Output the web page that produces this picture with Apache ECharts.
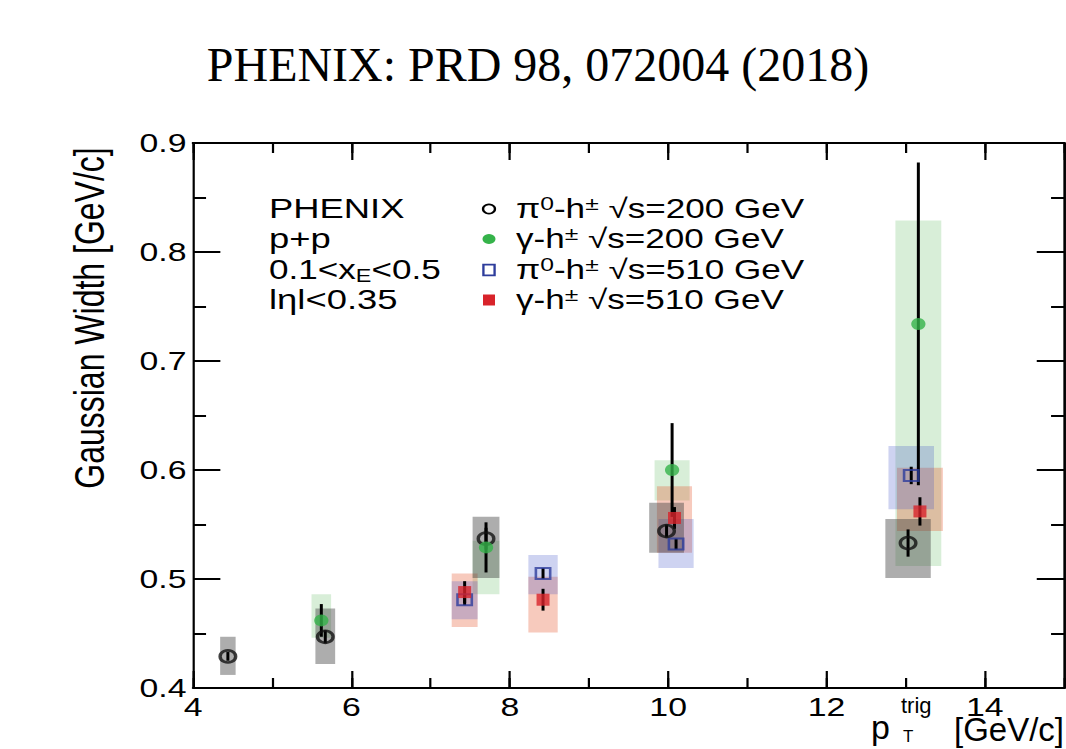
<!DOCTYPE html>
<html>
<head>
<meta charset="utf-8">
<script src="https://cdn.jsdelivr.net/npm/echarts@6/dist/echarts.min.js"></script>
<style>
  html, body { margin: 0; padding: 0; background: #fff; overflow: hidden; }
  #wrap { width: 1066px; height: 749px; overflow: hidden; }
  /* the figure is drawn with wide glyphs and markers: stretch the drawing horizontally */
  #chart { width: 820px; height: 749px; transform: scaleX(1.3); transform-origin: 0 0; }
</style>
</head>
<body>
<div id="wrap"><div id="chart"></div></div>
<script>
// ---- pi0-h± , sqrt(s) = 200 GeV (open black circles, grey boxes)
const pi200X     = [4.44, 5.67, 7.70, 9.98, 13.03];
const pi200Y     = [0.429, 0.447, 0.537, 0.544, 0.533];
const pi200Stat  = [0.004, 0.006, 0.010, 0.006, 0.0125];
const pi200SysLo = [0.412, 0.422, 0.501, 0.524, 0.501];
const pi200SysHi = [0.447, 0.473, 0.557, 0.570, 0.555];

// ---- gamma-h± , sqrt(s) = 200 GeV (green dots, green boxes)
const gam200X     = [5.62, 7.70, 10.05, 13.16];
const gam200Y     = [0.462, 0.529, 0.600, 0.734];
const gam200Stat  = [0.015, 0.023, 0.043, 0.148];
const gam200SysLo = [0.446, 0.486, 0.572, 0.512];
const gam200SysHi = [0.486, 0.535, 0.609, 0.829];

// ---- pi0-h± , sqrt(s) = 510 GeV (open blue squares, blue boxes)
const pi510X     = [7.43, 8.42, 10.10, 13.07];
const pi510Y     = [0.481, 0.505, 0.532, 0.595];
const pi510Stat  = [0.005, 0.005, 0.005, 0.008];
const pi510SysLo = [0.463, 0.486, 0.510, 0.564];
const pi510SysHi = [0.498, 0.522, 0.555, 0.622];

// ---- gamma-h± , sqrt(s) = 510 GeV (red squares, salmon boxes)
const gam510X     = [7.43, 8.42, 10.08, 13.18];
const gam510Y     = [0.488, 0.481, 0.556, 0.562];
const gam510Stat  = [0.010, 0.010, 0.010, 0.013];
const gam510SysLo = [0.456, 0.451, 0.524, 0.544];
const gam510SysHi = [0.505, 0.502, 0.585, 0.602];

// axis ranges and tick steps
const xRange = [4, 15];
const yRange = [0.4, 0.9];
const xMajor = 2, xMinor = 1;
const yMajor = 0.1, yMinor = 0.05;

const S = 1.3;                 // horizontal stretch applied to the container
const px = v => v / S;         // page x -> chart x
const BOX_FRAC = 0.022;        // systematic box half-width relative to pT

const BLACK = '#000';
const GREEN = '#35b34a';
const RED = '#d8232a';
const BLUE = '#2e3d9c';
const BOX_GREY = 'rgba(60,60,60,0.42)';
const BOX_GREEN = 'rgba(60,170,60,0.2)';
const BOX_BLUE = 'rgba(60,80,200,0.25)';
const BOX_RED = 'rgba(230,90,50,0.32)';

const SANS = '"Liberation Sans", Arial, Helvetica, sans-serif';

function boxSeries(xs, lo, hi, color, z) {
  return {
    type: 'custom', xAxisIndex: 0, yAxisIndex: 0, z: z, silent: true,
    data: xs.map((x, i) => [x, lo[i], hi[i]]),
    renderItem(params, api) {
      const x = api.value(0);
      const hw = BOX_FRAC * x;
      const a = api.coord([x - hw, api.value(2)]);
      const b = api.coord([x + hw, api.value(1)]);
      return { type: 'rect', shape: { x: a[0], y: a[1], width: b[0] - a[0], height: b[1] - a[1] },
               style: { fill: color } };
    }
  };
}

function errSeries(xs, ys, es) {
  return {
    type: 'custom', xAxisIndex: 0, yAxisIndex: 0, z: 5, silent: true,
    data: xs.map((x, i) => [x, ys[i] - es[i], ys[i] + es[i]]),
    renderItem(params, api) {
      const a = api.coord([api.value(0), api.value(1)]);
      const b = api.coord([api.value(0), api.value(2)]);
      return { type: 'line', shape: { x1: a[0], y1: a[1], x2: b[0], y2: b[1] },
               style: { stroke: BLACK, lineWidth: 2.3 } };
    }
  };
}

function markSeries(xs, ys, symbol, size, style, z) {
  return {
    type: 'scatter', xAxisIndex: 0, yAxisIndex: 0, z: z, silent: true,
    symbol: symbol, symbolSize: size,
    itemStyle: style,
    data: xs.map((x, i) => [x, ys[i]])
  };
}

function xAxisDef(pos, step, tickLen, labels) {
  return {
    type: 'value', position: pos, min: xRange[0], max: xRange[1], interval: step,
    axisLine: { show: labels || pos === 'top', onZero: false, lineStyle: { color: BLACK, width: 2 } },
    axisTick: { show: true, inside: true, length: tickLen, lineStyle: { color: BLACK, width: 1.7 } },
    axisLabel: { show: labels, margin: 6, color: BLACK, fontFamily: SANS, fontSize: 26,
                 showMaxLabel: false, formatter: v => String(v) },
    splitLine: { show: false }
  };
}

function yAxisDef(pos, step, tickLen, labels) {
  return {
    type: 'value', position: pos, min: yRange[0], max: yRange[1], interval: step,
    axisLine: { show: labels || pos === 'right', onZero: false, lineStyle: { color: BLACK, width: 1.7 } },
    axisTick: { show: true, inside: true, length: tickLen, lineStyle: { color: BLACK, width: 2 } },
    axisLabel: { show: labels, margin: 5, color: BLACK, fontFamily: SANS, fontSize: 26,
                 formatter: v => v.toFixed(1) },
    splitLine: { show: false }
  };
}

// text helper: page-space anchor, optional counter-stretch
function txt(x, y, text, opts) {
  opts = opts || {};
  return {
    type: 'text', x: px(x), y: y, z: 50, silent: true,
    scaleX: opts.scaleX || 1, rotation: opts.rotation || 0,
    style: Object.assign({
      text: text, fill: BLACK, font: opts.font || ('28px ' + SANS),
      align: opts.align || 'left', verticalAlign: opts.verticalAlign || 'middle',
      rich: opts.rich
    }, opts.style || {})
  };
}

const richLegend = {
  t:   { fontFamily: SANS, fontSize: 27, fill: BLACK, lineHeight: 30 },
  sup: { fontFamily: SANS, fontSize: 19, fill: BLACK, verticalAlign: 'top', lineHeight: 30 },
  sub: { fontFamily: SANS, fontSize: 18, fill: BLACK, verticalAlign: 'bottom', lineHeight: 30 }
};

const legendRows = [209, 239, 270, 300];
const legendMarkX = 489;
const legendTextX = 516;

const graphics = [
  // heading
  txt(538, 64, 'PHENIX: PRD 98, 072004 (2018)',
      { align: 'center', scaleX: 1 / S, font: '48px "Liberation Serif", "Times New Roman", serif' }),
  // vertical axis title
  txt(89, 318, 'Gaussian Width [GeV/c]', { align: 'center', rotation: Math.PI / 2, font: '32px ' + SANS }),
  // horizontal axis title
  txt(871, 727, 'p', { scaleX: 1 / S, font: '34px ' + SANS }),
  txt(901, 705, 'trig', { scaleX: 1 / S, font: '22px ' + SANS }),
  txt(903, 736, 'T', { scaleX: 1 / S, font: '17px ' + SANS }),
  txt(954, 729, '[GeV/c]', { scaleX: 1 / S, font: '33px ' + SANS }),
  // selection text
  txt(269, legendRows[0], 'PHENIX', { font: '28px ' + SANS }),
  txt(269, legendRows[1], 'p+p', { font: '28px ' + SANS }),
  txt(269, legendRows[2], '{t|0.1<x}{sub|E}{t|<0.5}', { rich: richLegend }),
  txt(269, legendRows[3], 'lηl<0.35', { font: '28px ' + SANS }),
  // legend markers
  { type: 'circle', x: px(legendMarkX), y: legendRows[0], z: 50, silent: true,
    shape: { cx: 0, cy: 0, r: 4.6 }, style: { fill: 'none', stroke: BLACK, lineWidth: 1.8 } },
  { type: 'circle', x: px(legendMarkX), y: legendRows[1], z: 50, silent: true,
    shape: { cx: 0, cy: 0, r: 5 }, style: { fill: GREEN } },
  { type: 'rect', x: px(legendMarkX), y: legendRows[2], z: 50, silent: true,
    shape: { x: -4.3, y: -5.3, width: 8.6, height: 10.6 }, style: { fill: 'none', stroke: BLUE, lineWidth: 1.8 } },
  { type: 'rect', x: px(legendMarkX), y: legendRows[3], z: 50, silent: true,
    shape: { x: -4.6, y: -5.5, width: 9.2, height: 11 }, style: { fill: RED } },
  // legend labels
  txt(legendTextX, legendRows[0], '{t|π}{sup|0}{t|-h}{sup|±}{t| √s=200 GeV}', { rich: richLegend }),
  txt(legendTextX, legendRows[1], '{t|γ-h}{sup|±}{t| √s=200 GeV}', { rich: richLegend }),
  txt(legendTextX, legendRows[2], '{t|π}{sup|0}{t|-h}{sup|±}{t| √s=510 GeV}', { rich: richLegend }),
  txt(legendTextX, legendRows[3], '{t|γ-h}{sup|±}{t| √s=510 GeV}', { rich: richLegend })
];

const chart = echarts.init(document.getElementById('chart'), null, { renderer: 'svg' });

chart.setOption({
  animation: false,
  backgroundColor: '#fff',
  grid: { left: 148.5, right: 1.5, top: 143, bottom: 61 },
  xAxis: [
    xAxisDef('bottom', xMajor, 17, true),
    xAxisDef('bottom', xMinor, 10, false),
    xAxisDef('top', xMajor, 17, false),
    xAxisDef('top', xMinor, 10, false)
  ],
  yAxis: [
    yAxisDef('left', yMajor, 21, true),
    yAxisDef('left', yMinor, 10, false),
    yAxisDef('right', yMajor, 21, false),
    yAxisDef('right', yMinor, 10, false)
  ],
  series: [
    boxSeries(gam200X, gam200SysLo, gam200SysHi, BOX_GREEN, 1),
    boxSeries(gam510X, gam510SysLo, gam510SysHi, BOX_RED, 1),
    boxSeries(pi510X, pi510SysLo, pi510SysHi, BOX_BLUE, 1),
    boxSeries(pi200X, pi200SysLo, pi200SysHi, BOX_GREY, 1),
    errSeries(pi200X, pi200Y, pi200Stat),
    errSeries(pi510X, pi510Y, pi510Stat),
    errSeries(gam510X, gam510Y, gam510Stat),
    errSeries(gam200X, gam200Y, gam200Stat),
    markSeries(pi510X, pi510Y, 'rect', [11, 11], { color: 'rgba(0,0,0,0)', borderColor: BLUE, borderWidth: 2 }, 8),
    markSeries(gam510X, gam510Y, 'rect', [10, 12], { color: RED }, 9),
    markSeries(pi200X, pi200Y, 'circle', [12, 12], { color: 'rgba(0,0,0,0)', borderColor: '#111', borderWidth: 2.6 }, 10),
    markSeries(gam200X, gam200Y, 'circle', [11, 12], { color: GREEN }, 11)
  ],
  graphic: { elements: graphics }
});
</script>
</body>
</html>
